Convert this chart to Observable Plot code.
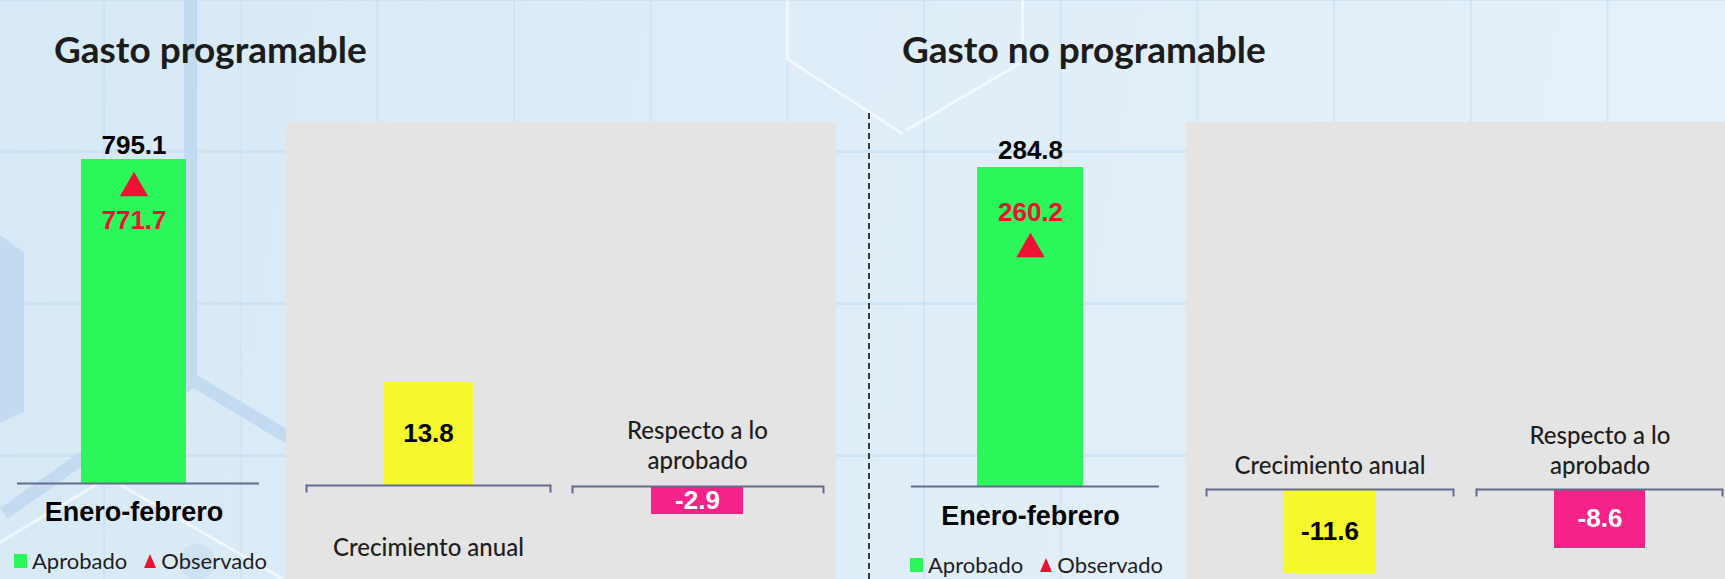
<!DOCTYPE html>
<html>
<head>
<meta charset="utf-8">
<script src="https://cdn.jsdelivr.net/npm/d3@7"></script>
<script src="https://cdn.jsdelivr.net/npm/@observablehq/plot@0.6"></script>
<style>
html, body { margin: 0; padding: 0; }
body {
  width: 1725px; height: 579px; overflow: hidden; position: relative;
  background: linear-gradient(100deg, #d7e9f6 0%, #dfedf8 45%, #e5f1fa 100%);
  font-family: Lato, "Noto Sans", sans-serif;
}
#grid {
  position: absolute; left: 0; top: 0; width: 1725px; height: 579px;
  background-image:
    linear-gradient(to right, rgba(196, 222, 243, 0.55) 2px, transparent 2px),
    linear-gradient(to bottom, rgba(196, 222, 243, 0.6) 3px, transparent 3px);
  background-size: 136.7px 152px;
  background-position: 103px 150px;
}
.deco { position: absolute; }
.band { background: #c3dbf0; }
.wl { background: rgba(255,255,255,0.6); height: 3px; transform-origin: 0 0; }
.panel { position: absolute; background: #e4e4e4; }
.title { position: absolute; font-family: Lato, sans-serif; font-weight: 700; font-size: 37px; line-height: 1; color: #1c1c1c; white-space: nowrap; }
.legend { position: absolute; display: flex; align-items: center; height: 22px; font-family: Lato, sans-serif; font-size: 22px; color: #1e1e1e; line-height: 1; white-space: nowrap; }
.legend .sq { width: 13px; height: 14px; background: #2bf65a; margin-right: 5px; }
.legend .tri { width: 0; height: 0; border-left: 6.5px solid transparent; border-right: 6.5px solid transparent; border-bottom: 14px solid #ee1131; margin-left: 17px; margin-right: 5px; }
.chart { position: absolute; top: 0; }
#sep { position: absolute; left: 868px; top: 113px; height: 466px; border-left: 2px dashed #3a3a3a; }
</style>
</head>
<body>
<div id="grid"></div>
<!-- decorative background -->
<div class="deco band" style="left:184px;top:0;width:13px;height:378px;"></div>
<div class="deco band" style="left:192px;top:372px;width:130px;height:13px;transform-origin:0 0;transform:rotate(31deg);"></div>
<div class="deco band" style="left:0;top:508px;width:236px;height:13px;transform-origin:0 0;transform:rotate(-35deg);"></div>
<div class="deco band" style="left:0;top:235px;width:24px;height:188px;clip-path:polygon(0 0,100% 9%,100% 94%,0 100%);"></div>
<div class="deco" style="left:179px;top:544px;width:36px;height:36px;border-radius:50%;background:#cfe2f3;"></div>
<div class="deco wl" style="left:120px;top:483px;width:200px;transform:rotate(30deg);"></div>
<div class="deco wl" style="left:100px;top:484px;width:118px;transform:rotate(149deg);"></div>
<div class="deco wl" style="left:786px;top:0;width:3px;height:58px;"></div>
<div class="deco wl" style="left:787px;top:57px;width:139px;transform:rotate(33deg);"></div>
<div class="deco wl" style="left:1021px;top:0;width:3px;height:65px;"></div>
<div class="deco wl" style="left:1022px;top:64px;width:134px;transform:rotate(149.6deg);"></div>

<div class="panel" style="left:286px;top:122px;width:550px;height:457px;"></div>
<div class="panel" style="left:1186px;top:122px;width:539px;height:457px;"></div>
<div id="sep"></div>

<div class="title" id="t0" style="left:54px;top:30px;"></div>
<div class="title" id="t1" style="left:902px;top:30px;"></div>

<div class="legend" id="lg0" style="left:14px;top:550px;"></div>
<div class="legend" id="lg1" style="left:910px;top:554px;"></div>

<script>
// ---------- data ----------
const panelTitles = ["Gasto programable", "Gasto no programable"];
const periods = ["Enero-febrero"];
const aprobado = [795.1, 284.8];
const observado = [771.7, 260.2];
const crecimientoAnual = [13.8, -11.6];
const respectoAprobado = [-2.9, -8.6];
const subLabels = ["Crecimiento anual", "Respecto a lo\naprobado"];
const legendLabels = ["Aprobado", "Observado"];

// ---------- style ----------
const GREEN = "#2bf65a", RED = "#ee1131", YELLOW = "#f7f72d", PINK = "#f5228a";
const AXIS = "#656b8e";
const H = 579;
const NUMFONT = "'Liberation Sans', Arial, sans-serif";
const LABFONT = "Lato, 'Noto Sans', sans-serif";

// layout of the main (aprobado / observado) charts
const mainLayout = [
  {x0: 17, x1: 259, base: 483, top: 159, pad: 0.395, align: 0.467, dyVal: -14, dyTri: 19, dyObs: 51.5, dyCat: 29},
  {x0: 911, x1: 1159, base: 486, top: 167, pad: 0.401, align: 0.465, dyVal: -17, dyTri: 54, dyObs: 18, dyCat: 30}
];
// layout of the small percentage charts: [panel][chart]
const subLayout = [
  [{x0: 306, x1: 550, base: 485, ppu: 7.46, dyLab: 61}, {x0: 572, x1: 823, base: 486, ppu: 9.66, dyLab: -42}],
  [{x0: 1206, x1: 1453, base: 489, ppu: 7.24, dyLab: -25}, {x0: 1476, x1: 1722, base: 489, ppu: 6.86, dyLab: -40}]
];

function place(svg, left) {
  svg.classList.add("chart");
  svg.style.left = left + "px";
  document.body.appendChild(svg);
}

function mainChart(i) {
  const L = mainLayout[i];
  const data = periods.map(p => ({cat: p, ap: aprobado[i], ob: observado[i]}));
  const W = L.x1 - L.x0 + 20;
  const svg = Plot.plot({
    width: W, height: H,
    marginLeft: 10, marginRight: 10, marginTop: L.top, marginBottom: H - L.base,
    style: {background: "transparent", overflow: "visible", fontFamily: NUMFONT},
    x: {type: "band", domain: periods, padding: L.pad, align: L.align, axis: null},
    y: {domain: [0, d3.max(data, d => d.ap)], axis: null},
    marks: [
      Plot.barY(data, {x: "cat", y: "ap", fill: GREEN}),
      Plot.ruleY([0], {stroke: AXIS, strokeWidth: 2}),
      Plot.text(data, {x: "cat", y: "ap", text: d => d.ap.toFixed(1), dy: L.dyVal, fontSize: 26, fontWeight: "bold", fill: "#000"}),
      Plot.dot(data, {x: "cat", y: "ob", symbol: "triangle", r: 10.5, fill: RED, stroke: "none", dy: L.dyTri}),
      Plot.text(data, {x: "cat", y: "ob", text: d => d.ob.toFixed(1), dy: L.dyObs, fontSize: 26, fontWeight: "bold", fill: RED}),
      Plot.text(data, {x: "cat", frameAnchor: "bottom", lineAnchor: "middle", text: "cat", dy: L.dyCat, fontSize: 27, fontWeight: "bold", fill: "#000"})
    ]
  });
  place(svg, L.x0 - 10);
}

function subChart(i, j, value, color, textColor) {
  const L = subLayout[i][j];
  const label = subLabels[j];
  const data = [{cat: label, v: value}];
  const hi = Math.max(0, value), lo = Math.min(0, value);
  const mTop = L.base - hi * L.ppu;
  const mBottom = H - (L.base - lo * L.ppu);
  const W = L.x1 - L.x0 + 20;
  const svg = Plot.plot({
    width: W, height: H,
    marginLeft: 10, marginRight: 10, marginTop: mTop, marginBottom: mBottom,
    style: {background: "transparent", overflow: "visible", fontFamily: NUMFONT},
    x: {type: "band", domain: [label], padding: 0.46, axis: null},
    y: {domain: [lo, hi], axis: null},
    marks: [
      Plot.barY(data, {x: "cat", y: "v", fill: color}),
      Plot.ruleY([0], {stroke: AXIS, strokeWidth: 2}),
      Plot.frame({anchor: "left", stroke: AXIS, strokeWidth: 2, insetTop: hi * L.ppu, insetBottom: -lo * L.ppu - 6}),
      Plot.frame({anchor: "right", stroke: AXIS, strokeWidth: 2, insetTop: hi * L.ppu, insetBottom: -lo * L.ppu - 6}),
      Plot.text(data, {x: "cat", y: d => d.v / 2, text: d => d.v.toFixed(1), fontSize: 26, fontWeight: "bold", fill: textColor}),
      Plot.text(data, {x: "cat", y: d => 0, text: "cat", dy: L.dyLab, fontSize: 24, fontWeight: 500, lineHeight: 1.25, fontFamily: LABFONT, fill: "#1e1e1e"})
    ]
  });
  place(svg, L.x0 - 10);
}

panelTitles.forEach((t, i) => {
  document.getElementById("t" + i).textContent = t;
  const lg = document.getElementById("lg" + i);
  lg.innerHTML = `<span class="sq"></span><span>${legendLabels[0]}</span><span class="tri"></span><span>${legendLabels[1]}</span>`;
  mainChart(i);
  subChart(i, 0, crecimientoAnual[i], YELLOW, "#000");
  subChart(i, 1, respectoAprobado[i], PINK, "#fff");
});
</script>
</body>
</html>
